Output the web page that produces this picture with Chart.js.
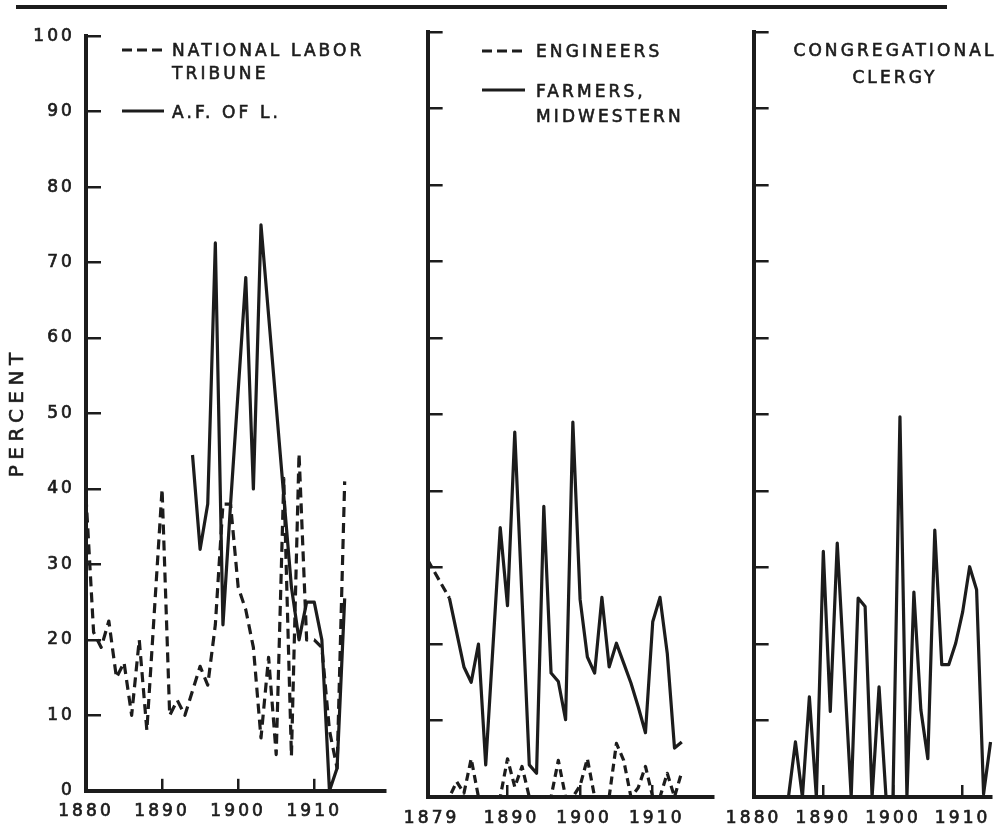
<!DOCTYPE html>
<html>
<head>
<meta charset="utf-8">
<title>Percent by year</title>
<script src="https://cdn.jsdelivr.net/npm/chart.js@4.4.1/dist/chart.umd.min.js"></script>
<style>
  html, body { margin: 0; padding: 0; background: #ffffff; }
  #page { position: relative; width: 1006px; height: 827px; overflow: hidden;
          font-family: "DejaVu Sans", sans-serif; color: #1c1c1c; }
  canvas { position: absolute; top: 0; }
  .rule { position: absolute; left: 16px; top: 5px; width: 931px; height: 4px; background: #1c1c1c; }
  .lab { position: absolute; font-size: 17px; letter-spacing: 3.1px; white-space: nowrap; z-index: 2;
         -webkit-text-stroke: 0.6px #1c1c1c; }
  .key { position: absolute; z-index: 2; }
  #ytitle { position: absolute; left: -84px; top: 404px; width: 200px; height: 22px; line-height: 22px;
            text-align: center; font-size: 20px; letter-spacing: 5.5px; text-indent: 5.5px;
            -webkit-text-stroke: 0.6px #1c1c1c; transform: rotate(-90deg); z-index: 2; }
</style>
</head>
<body>
<div id="page">
  <div class="rule"></div>
  <canvas id="labor" width="400" height="827" style="left:0px"></canvas>
  <canvas id="rural" width="345" height="827" style="left:383px"></canvas>
  <canvas id="clergy" width="297" height="827" style="left:709px"></canvas>

  <div id="ytitle">PERCENT</div>

  <svg class="key" style="left:120px;top:45px" width="46" height="10"><line x1="2" y1="5" x2="44" y2="5" stroke="#1c1c1c" stroke-width="2.8" stroke-dasharray="10 5"/></svg>
  <div class="lab" style="left:172px;top:39px;line-height:23px">NATIONAL LABOR<br>TRIBUNE</div>
  <svg class="key" style="left:120px;top:106px" width="46" height="10"><line x1="2" y1="5" x2="44" y2="5" stroke="#1c1c1c" stroke-width="2.8"/></svg>
  <div class="lab" style="left:172px;top:101px;line-height:23px">A.F. OF L.</div>

  <svg class="key" style="left:480px;top:46px" width="48" height="10"><line x1="2" y1="5" x2="45" y2="5" stroke="#1c1c1c" stroke-width="2.8" stroke-dasharray="10 5"/></svg>
  <div class="lab" style="left:536px;top:40px;line-height:23px">ENGINEERS</div>
  <svg class="key" style="left:480px;top:85px" width="48" height="10"><line x1="2" y1="5" x2="45" y2="5" stroke="#1c1c1c" stroke-width="2.8"/></svg>
  <div class="lab" style="left:536px;top:79px;line-height:25px">FARMERS,<br>MIDWESTERN</div>

  <div class="lab" style="left:775px;top:37px;width:240px;text-align:center;line-height:27px">CONGREGATIONAL<br>CLERGY</div>
</div>

<script>
// ---- Left panel: labour press ----
const yearsLabor = [1880, 1881, 1882, 1883, 1884, 1885, 1886, 1887, 1888, 1889,
                    1890, 1891, 1892, 1893, 1894, 1895, 1896, 1897, 1898, 1899,
                    1900, 1901, 1902, 1903, 1904, 1905, 1906, 1907, 1908, 1909,
                    1910, 1911, 1912, 1913, 1914];
const laborTribune = [39, 21, 19, 22.5, 15, 17, 10, 20, 8, null,
                      40, 10, 12, 10, null, 16.5, 14, 22, 38, 38,
                      27, 24, 19, 7, 17.7, 4.8, 41.4, 4.6, 44.7, 20,
                      20, 19, 8, 3, 41];
const aflValues = [null, null, null, null, null, null, null, null, null, null,
                   null, null, null, null, 44.5, 32, 38, 72.6, 22, 38,
                   null, 68, 40, 75, 63, 51, 39, 27, 20, 25,
                   25, 20, 0, 3, 25.5];

// ---- Middle panel: engineers and farmers ----
const yearsRural = [1879, 1880, 1881, 1882, 1883, 1884, 1885, 1886, 1887, 1888,
                    1889, 1890, 1891, 1892, 1893, 1894, 1895, 1896, 1897, 1898,
                    1899, 1900, 1901, 1902, 1903, 1904, 1905, 1906, 1907, 1908,
                    1909, 1910, 1911, 1912, 1913, 1914];
const engineers = [0, 0, 0, 0, 2, 0.5, 5, 0, 0, 0,
                   0, 5, 1.3, 4, 0, 0, 0, 0, 4.8, 0,
                   0, 1.5, 5, 0, 0, 0, 7, 4.8, 0, 1.2,
                   4, 0, 0, 3.1, 0, 3.3];
const farmers = [31, null, null, 26, null, 17, 15, 20, 4.2, null,
                 35.2, 25, 47.7, null, 4.2, 3.1, 38, 16.2, 15.1, 10.1,
                 49, 25.8, 18.3, 16.2, 26.1, 17, 20.1, 17.5, 14.9, 11.8,
                 8.4, 22.9, 26.1, 18.8, 6.4, 7.2];
// farmers' early stretch (up to this year) is drawn dashed
const farmersEstimatedUntil = 1882;

// ---- Right panel: clergy ----
const yearsClergy = [1880, 1881, 1882, 1883, 1884, 1885, 1886, 1887, 1888, 1889,
                     1890, 1891, 1892, 1893, 1894, 1895, 1896, 1897, 1898, 1899,
                     1900, 1901, 1902, 1903, 1904, 1905, 1906, 1907, 1908, 1909,
                     1910, 1911, 1912, 1913, 1914];
const clergy = [0, 0, 0, 0, 0, 0, 7.2, 0, 13.1, 0,
                32.1, 11.2, 33.2, null, 0, 26, 24.9, 0, 14.4, 0,
                0, 49.7, 0, 26.8, 11.4, 5, 34.9, 17.3, 17.3, 20.1,
                24.2, 30.1, 27.1, 0.4, 7.2];

// ---- Axis ticks ----
const percentTicks = [0, 10, 20, 30, 40, 50, 60, 70, 80, 90, 100];
const laborYearTicks = [1880, 1890, 1900, 1910];
const ruralYearTicks = [1879, 1890, 1900, 1910];
const clergyYearTicks = [1880, 1890, 1900, 1910];

const INK = '#1c1c1c';
const tickFont = { family: 'DejaVu Sans', size: 17, weight: 'normal' };

const spacedText = {
  id: 'spacedText',
  beforeDraw(chart) { chart.ctx.letterSpacing = '3.1px'; }
};

function points(years, values) {
  return years.map((yr, i) => ({ x: yr, y: values[i] }));
}

function solid(years, values) {
  return { data: points(years, values), borderColor: INK, borderWidth: 3.2,
           spanGaps: true, clip: false, pointRadius: 0 };
}

function dashed(years, values, dash) {
  return Object.assign(solid(years, values), { borderDash: dash });
}

function panel(id, cfg) {
  return new Chart(document.getElementById(id), {
    type: 'line',
    data: { datasets: cfg.datasets },
    options: {
      responsive: false,
      animation: false,
      devicePixelRatio: 1,
      layout: { padding: cfg.padding },
      plugins: { legend: { display: false }, tooltip: { enabled: false } },
      elements: {
        point: { radius: 0 },
        line: { tension: 0, borderJoinStyle: 'round', borderCapStyle: 'butt' }
      },
      scales: {
        x: {
          type: 'linear',
          min: cfg.xMin, max: cfg.xMax,
          afterBuildTicks: s => { s.ticks = cfg.xTicks.map(v => ({ value: v })); },
          afterFit: s => { s.height = 30; },
          grid: { drawOnChartArea: false, drawTicks: true, tickLength: -12, color: INK, lineWidth: 2.5 },
          border: { display: true, color: INK, width: 4 },
          ticks: { font: tickFont, color: INK, padding: 23, maxRotation: 0, autoSkip: false,
                   labelOffset: cfg.labelOffset || 0,
                   textStrokeColor: INK, textStrokeWidth: 0.7,
                   callback: v => String(v) }
        },
        y: {
          min: 0, max: 100,
          afterBuildTicks: s => { s.ticks = percentTicks.map(v => ({ value: v })); },
          afterFit: s => { s.width = cfg.yWidth; },
          grid: { drawOnChartArea: false, drawTicks: true, tickLength: -15, color: INK, lineWidth: 2.5 },
          border: { display: true, color: INK, width: 4 },
          ticks: { display: cfg.showY, font: tickFont, color: INK, padding: 26,
                   textStrokeColor: INK, textStrokeWidth: 0.7,
                   callback: v => String(v) }
        }
      }
    },
    plugins: [spacedText]
  });
}

panel('labor', {
  padding: { left: 0, top: 32, right: 15, bottom: 0 },
  yWidth: 86, showY: true,
  xMin: 1880, xMax: 1919.3, xTicks: laborYearTicks,
  datasets: [
    dashed(yearsLabor, laborTribune, [10, 6]),
    solid(yearsLabor, aflValues)
  ]
});

const farmersLine = solid(yearsRural, farmers);
farmersLine.segment = {
  borderDash: c => (c.p1.parsed.x <= farmersEstimatedUntil ? [9, 5] : undefined)
};

panel('rural', {
  padding: { left: 25, top: 32, right: 15, bottom: 0 },
  yWidth: 0, showY: false, labelOffset: 4,
  xMin: 1879, xMax: 1918.3, xTicks: ruralYearTicks,
  datasets: [
    dashed(yearsRural, engineers, [8, 5]),
    farmersLine
  ]
});

panel('clergy', {
  padding: { left: 25, top: 32, right: 9, bottom: 0 },
  yWidth: 0, showY: false,
  xMin: 1880, xMax: 1914.16, xTicks: clergyYearTicks,
  datasets: [
    solid(yearsClergy, clergy)
  ]
});
</script>
</body>
</html>
